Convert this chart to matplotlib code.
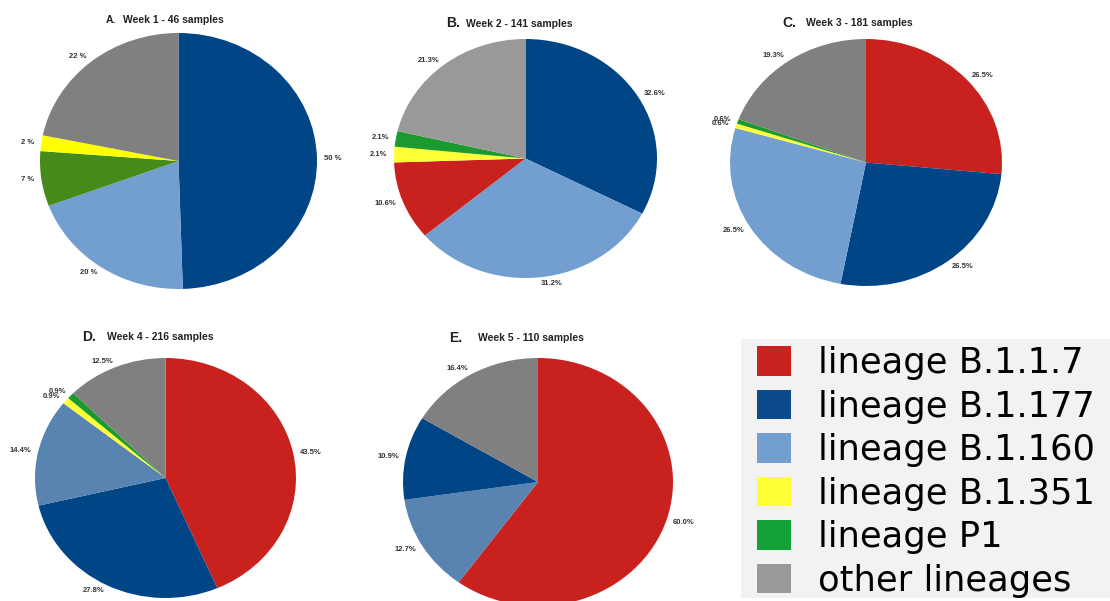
# Lineage share per week - five pie charts + shared legend
import matplotlib
matplotlib.use("Agg")
import matplotlib.pyplot as plt
from matplotlib.patches import Patch, Rectangle

W, H = 1110, 601

lineages = ['lineage B.1.1.7', 'lineage B.1.177', 'lineage B.1.160',
            'lineage B.1.351', 'lineage P1', 'other lineages']
legend_colors = ['#c9211e', '#0b4a8b', '#729fcf', '#ffff38', '#12a037', '#999999']

panel_letters = ['A.', 'B.', 'C.', 'D.', 'E.']
panel_titles = ['Week 1 - 46 samples', 'Week 2 - 141 samples', 'Week 3 - 181 samples',
                'Week 4 - 216 samples', 'Week 5 - 110 samples']

# slices in clockwise order from 12 o'clock
week1_names = ['B.1.177', 'B.1.160', 'P1', 'B.1.351', 'other']
week1_pct = [50, 20, 7, 2, 22]
week2_names = ['B.1.177', 'B.1.160', 'B.1.1.7', 'B.1.351', 'P1', 'other']
week2_pct = [32.6, 31.2, 10.6, 2.1, 2.1, 21.3]
week3_names = ['B.1.1.7', 'B.1.177', 'B.1.160', 'B.1.351', 'P1', 'other']
week3_pct = [26.5, 26.5, 26.5, 0.6, 0.6, 19.3]
week4_names = ['B.1.1.7', 'B.1.177', 'B.1.160', 'B.1.351', 'P1', 'other']
week4_pct = [43.5, 27.8, 14.4, 0.9, 0.9, 12.5]
week5_names = ['B.1.1.7', 'B.1.160', 'B.1.177', 'other']
week5_pct = [60.0, 12.7, 10.9, 16.4]

# each panel was drawn with slightly different shades
base = {'B.1.1.7': '#c9211e', 'B.1.177': '#004586', 'B.1.160': '#729fcf',
        'B.1.351': '#ffff38', 'P1': '#1a9a2f', 'other': '#999999'}
shade_overrides = [
    {'P1': '#468a1a', 'B.1.351': '#ffff00', 'other': '#808080'},
    {},
    {'other': '#808080'},
    {'B.1.160': '#5983b0', 'other': '#808080'},
    {'B.1.160': '#5983b0', 'other': '#808080'},
]
label_fmt = ['{:.0f} %', '{:.1f}%', '{:.1f}%', '{:.1f}%', '{:.1f}%']

weeks = [(week1_names, week1_pct), (week2_names, week2_pct), (week3_names, week3_pct),
         (week4_names, week4_pct), (week5_names, week5_pct)]

# pie bounding boxes in pixels (x0, y0, x1, y1), title positions
pie_boxes = [(40, 33, 317, 289), (394, 39, 657, 278), (730, 39, 1002, 286),
             (35, 358, 296, 598), (403, 358, 673, 606)]
letter_pos = [(106, 20), (446, 23), (782, 23), (82, 337), (449, 338)]
title_pos = [(123, 20), (466, 24), (806, 23), (107, 337), (478, 338)]

fig = plt.figure(figsize=(W / 100, H / 100), dpi=100)
fig.patch.set_facecolor('white')

lab_font = dict(family='Liberation Sans', fontsize=5.5, fontweight='bold', color='#333333')

for i, ((names, pct), box) in enumerate(zip(weeks, pie_boxes)):
    x0, y0, x1, y1 = box
    ax = fig.add_axes([x0 / W, 1 - y1 / H, (x1 - x0) / W, (y1 - y0) / H])
    cmap = dict(base, **shade_overrides[i])
    cols = [cmap[n] for n in names]
    labels = [label_fmt[i].format(p) for p in pct]
    wedges, texts = ax.pie(pct, colors=cols, labels=labels, startangle=90,
                           counterclock=False, labeldistance=1.05,
                           wedgeprops=dict(linewidth=0), textprops=lab_font)
    ax.set_aspect('auto')
    ax.set_xlim(-1, 1)
    ax.set_ylim(-1, 1)
    ax.axis('off')

    lx, ly = letter_pos[i]
    tx, ty = title_pos[i]
    if i == 0:
        fig.text(lx / W, 1 - ly / H, panel_letters[i], family='Liberation Sans',
                 fontsize=7.5, fontweight='bold', color='#222222', va='center')
    else:
        fig.text(lx / W, 1 - ly / H, panel_letters[i], family='Liberation Sans',
                 fontsize=10, fontweight='semibold', color='#222222', va='center')
    fig.text(tx / W, 1 - ty / H, panel_titles[i], family='Liberation Sans',
             fontsize=7.5, fontweight='bold', color='#222222', va='center')

# legend box
fig.add_artist(Rectangle((741 / W, 1 - 598 / H), (W - 741) / W, (598 - 339) / H,
                         transform=fig.transFigure, facecolor='#f2f2f2',
                         edgecolor='none', zorder=0))
handles = [Patch(facecolor=c, edgecolor='none') for c in legend_colors]
fig.legend(handles, lineages, loc='upper left', bbox_to_anchor=(757 / W, 1 - 346 / H),
           frameon=False, fontsize=25.4, handlelength=0.96, handleheight=0.91,
           handletextpad=0.76, labelspacing=0.27, borderpad=0, borderaxespad=0)

fig.savefig('out.png', dpi=100, facecolor='white')
